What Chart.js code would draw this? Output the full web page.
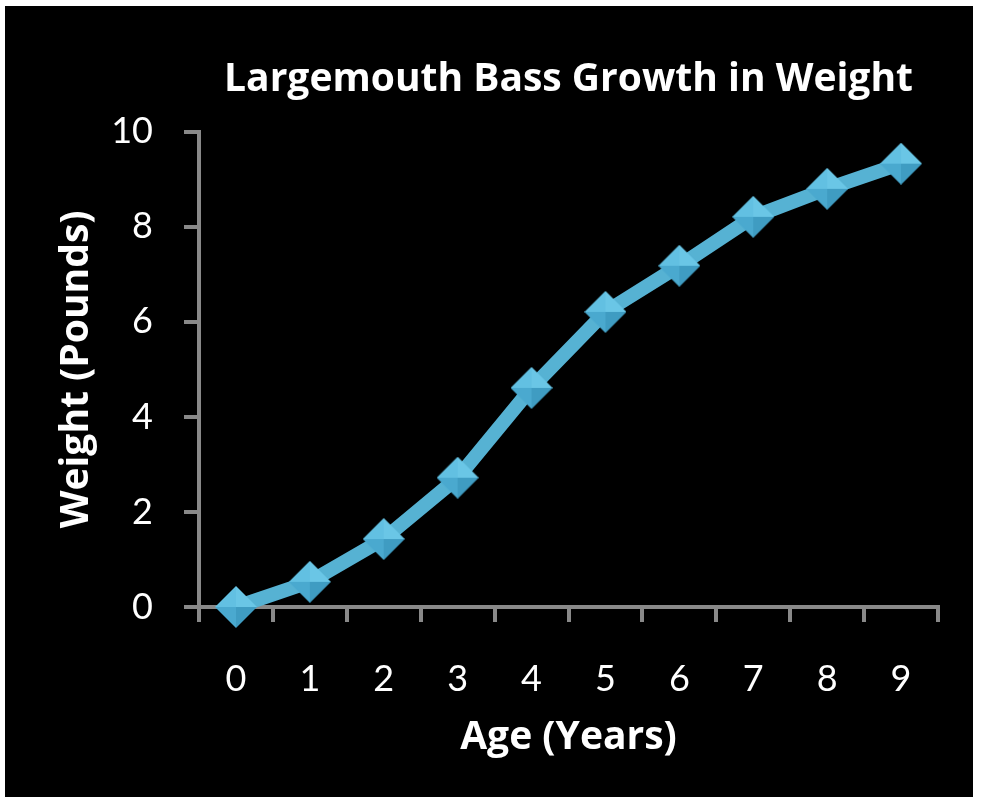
<!DOCTYPE html>
<html>
<head>
<meta charset="utf-8">
<script src="https://cdn.jsdelivr.net/npm/chart.js@4"></script>
<style>
  html, body { margin: 0; padding: 0; background: #fff; }
  #wrap { position: absolute; left: 5px; top: 6px; width: 968px; height: 791px; background: #000; }
</style>
</head>
<body>
<div id="wrap"><canvas id="myChart" width="968" height="791"></canvas></div>
<script>
const ages = ["0", "1", "2", "3", "4", "5", "6", "7", "8", "9"];
const weights = [0, 0.53, 1.43, 2.72, 4.61, 6.21, 7.18, 8.21, 8.8, 9.33];
const yTicks = [0, 2, 4, 6, 8, 10];

// beveled diamond marker, like the office "pyramid" style
const makeDiamond = (r) => {
  const c = document.createElement("canvas");
  c.width = r * 2; c.height = r * 2;
  const g = c.getContext("2d");
  const faces = [
    [[r, 0], [2 * r, r], [r, r], "#6ac6e6"],  // top-right
    [[r, 0], [0, r], [r, r], "#62c0e2"],       // top-left
    [[0, r], [r, 2 * r], [r, r], "#4aa9cf"],   // bottom-left
    [[2 * r, r], [r, 2 * r], [r, r], "#3f9cc2"] // bottom-right
  ];
  faces.forEach(f => {
    g.beginPath();
    g.moveTo(f[0][0], f[0][1]);
    g.lineTo(f[1][0], f[1][1]);
    g.lineTo(f[2][0], f[2][1]);
    g.closePath();
    g.fillStyle = f[3];
    g.fill();
  });
  return c;
};

const axisGrey = "#898989";
const tickFont = "Lato, 'Open Sans', sans-serif";
const titleFont = "'Open Sans', Lato, sans-serif";

let ctx = document.getElementById("myChart");
let myChart = new Chart(ctx, {
  type: "line",
  data: {
    labels: ages,
    datasets: [{
      data: weights,
      borderColor: "#56b2d3",
      borderWidth: 14,
      tension: 0,
      clip: false,
      pointStyle: makeDiamond(21),
      pointRadius: 21
    }]
  },
  options: {
    responsive: false,
    animation: false,
    layout: { padding: { left: 44, right: 31, top: 42, bottom: 30 } },
    plugins: {
      legend: { display: false },
      tooltip: { enabled: false },
      title: {
        display: true,
        fullSize: false,
        text: "Largemouth Bass Growth in Weight",
        color: "#fff",
        align: "center",
        font: { family: titleFont, size: 39, weight: "bold" },
        padding: { top: 8, bottom: 29 }
      }
    },
    scales: {
      x: {
        offset: true,
        afterFit: (scale) => { scale.height = 160; },
        border: { color: axisGrey, width: 4 },
        grid: { display: true, drawOnChartArea: false, color: axisGrey, lineWidth: 4, tickLength: 15, offset: true },
        ticks: { color: "#fff", font: { family: tickFont, size: 36 }, padding: 36 },
        title: {
          display: true, text: "Age (Years)", color: "#fff",
          font: { family: titleFont, size: 39, weight: "bold" }, padding: { top: 0, bottom: 6 }
        }
      },
      y: {
        min: 0, max: 10,
        afterBuildTicks: (axis) => { axis.ticks = yTicks.map(v => ({ value: v })); },
        afterFit: (scale) => { scale.width = 150; },
        border: { color: axisGrey, width: 4 },
        grid: { display: true, drawOnChartArea: false, color: axisGrey, lineWidth: 4, tickLength: 15 },
        ticks: { color: "#fff", font: { family: tickFont, size: 36 }, padding: 31 },
        title: {
          display: true, text: "Weight (Pounds)", color: "#fff",
          font: { family: titleFont, size: 39, weight: "bold" }, padding: { top: 4, bottom: 0 }
        }
      }
    }
  }
});
</script>
</body>
</html>
